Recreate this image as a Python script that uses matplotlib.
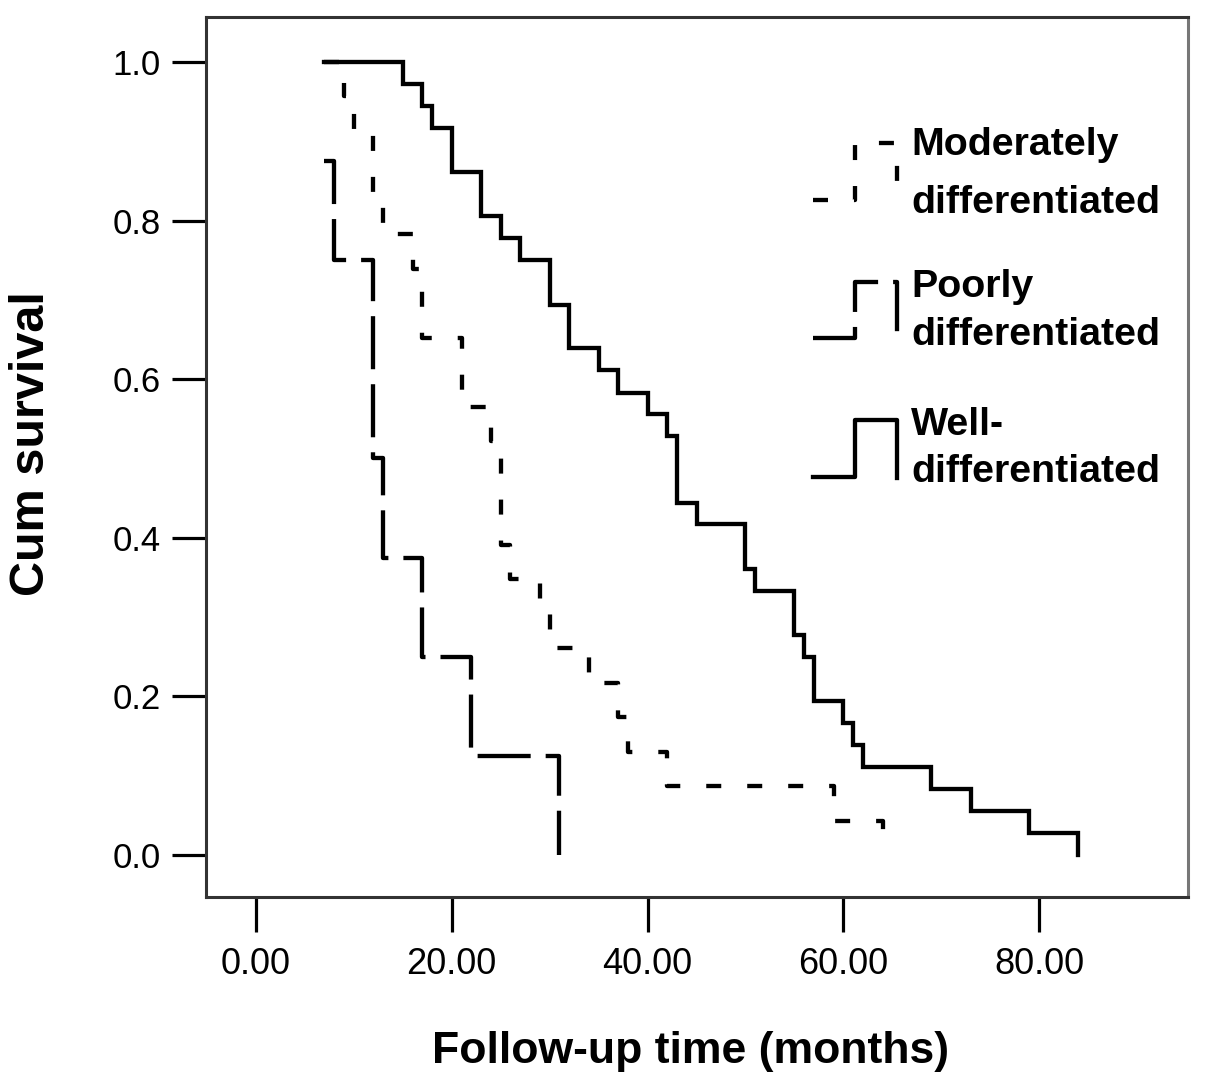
import matplotlib
matplotlib.use("Agg")
import matplotlib.pyplot as plt

# ---------------- data ----------------
well_t = [7, 15, 17, 18, 20, 23, 25, 27, 30, 32, 35, 37, 40, 42, 43, 45,
          50, 51, 55, 56, 57, 60, 61, 62, 69, 73, 79, 84]
well_s = [1.0, 0.972, 0.944, 0.917, 0.861, 0.806, 0.778, 0.750, 0.694, 0.639,
          0.611, 0.583, 0.556, 0.528, 0.444, 0.417, 0.361, 0.333, 0.278, 0.250,
          0.194, 0.167, 0.139, 0.111, 0.083, 0.056, 0.028, 0.0]

mod_t = [7, 9, 10, 12, 13, 16, 17, 21, 24, 25, 26, 29, 30, 34, 37, 38, 42, 59, 64]
mod_s = [1.0, 0.957, 0.913, 0.826, 0.783, 0.739, 0.652, 0.565, 0.522, 0.391,
         0.348, 0.304, 0.261, 0.217, 0.174, 0.130, 0.087, 0.043, 0.0]

poor_t = [7, 8, 12, 13, 17, 22, 31]
poor_s = [0.875, 0.75, 0.5, 0.375, 0.25, 0.125, 0.0]

x_ticks = [0, 20, 40, 60, 80]
x_ticklabels = ["0.00", "20.00", "40.00", "60.00", "80.00"]
y_ticks = [0.0, 0.2, 0.4, 0.6, 0.8, 1.0]
y_ticklabels = ["0.0", "0.2", "0.4", "0.6", "0.8", "1.0"]

legend_labels = ["Moderately\ndifferentiated", "Poorly\ndifferentiated", "Well-\ndifferentiated"]

# ---------------- style ----------------
plt.rcParams['lines.scale_dashes'] = False
plt.rcParams['font.family'] = ['Liberation Sans', 'DejaVu Sans']

W, H = 1205, 1088
fig = plt.figure(figsize=(W / 100, H / 100), dpi=100)
L, R, T, B = 206, 1188, 17, 897
ax = fig.add_axes([L / W, 1 - B / H, (R - L) / W, (B - T) / H])

LW = 3.1
mod_dash = (0, (10.8, 18.7))
poor_dash = (0, (38.2, 10.8))

ax.step(well_t, well_s, where='post', color='black', lw=LW, solid_joinstyle='miter')
ax.step(mod_t, mod_s, where='post', color='black', lw=LW, linestyle=mod_dash)
ax.step(poor_t, poor_s, where='post', color='black', lw=LW, linestyle=poor_dash)

ax.set_xlim(-5.1, 95.2)
ax.set_ylim(-0.053, 1.0567)

ax.set_xticks(x_ticks)
ax.set_xticklabels(x_ticklabels, fontsize=26)
ax.set_yticks(y_ticks)
ax.set_yticklabels(y_ticklabels, fontsize=25)
ax.tick_params(axis='x', length=25, width=2.3, pad=11, direction='out', colors='black')
ax.tick_params(axis='y', length=24.5, width=2.3, pad=8, direction='out', colors='black')

for s in ax.spines.values():
    s.set_linewidth(2.2)
    s.set_color('#333333')
ax.spines['right'].set_color('#777777')

ax.set_xlabel("Follow-up time (months)", fontsize=32, fontweight='bold')
ax.xaxis.set_label_coords((691 - L) / (R - L), (B - 1052) / (B - T))
ax.xaxis.label.set_va('center')
ax.set_ylabel("Cum survival", fontsize=35, fontweight='bold')
ax.yaxis.set_label_coords((32 - L) / (R - L), (B - 444) / (B - T))
ax.yaxis.label.set_va('center')

# ---------------- legend (step-shaped symbols) ----------------
def px(x, y):
    return ((x - L) / (R - L), (B - y) / (B - T))

entries = [
    (mod_dash, 200, 143, 200, [155, 213]),
    (poor_dash, 338, 282, 333, [297, 345]),
    ('-', 477, 420, 478, [435, 482]),
]
for (ls, ybot, ytop, yend, baselines), lab in zip(entries, legend_labels):
    pts = [px(813, ybot), px(855, ybot), px(855, ytop), px(897, ytop), px(897, yend)]
    xs = [p[0] for p in pts]
    ys = [p[1] for p in pts]
    ax.plot(xs, ys, transform=ax.transAxes, color='black', lw=LW, linestyle=ls,
            clip_on=False)
    for line, bl in zip(lab.split("\n"), baselines):
        tx, ty = px(911, bl)
        ax.text(tx, ty, line, transform=ax.transAxes, fontsize=28.4, fontweight='bold',
                ha='left', va='baseline')

fig.savefig("out.png", dpi=100)
